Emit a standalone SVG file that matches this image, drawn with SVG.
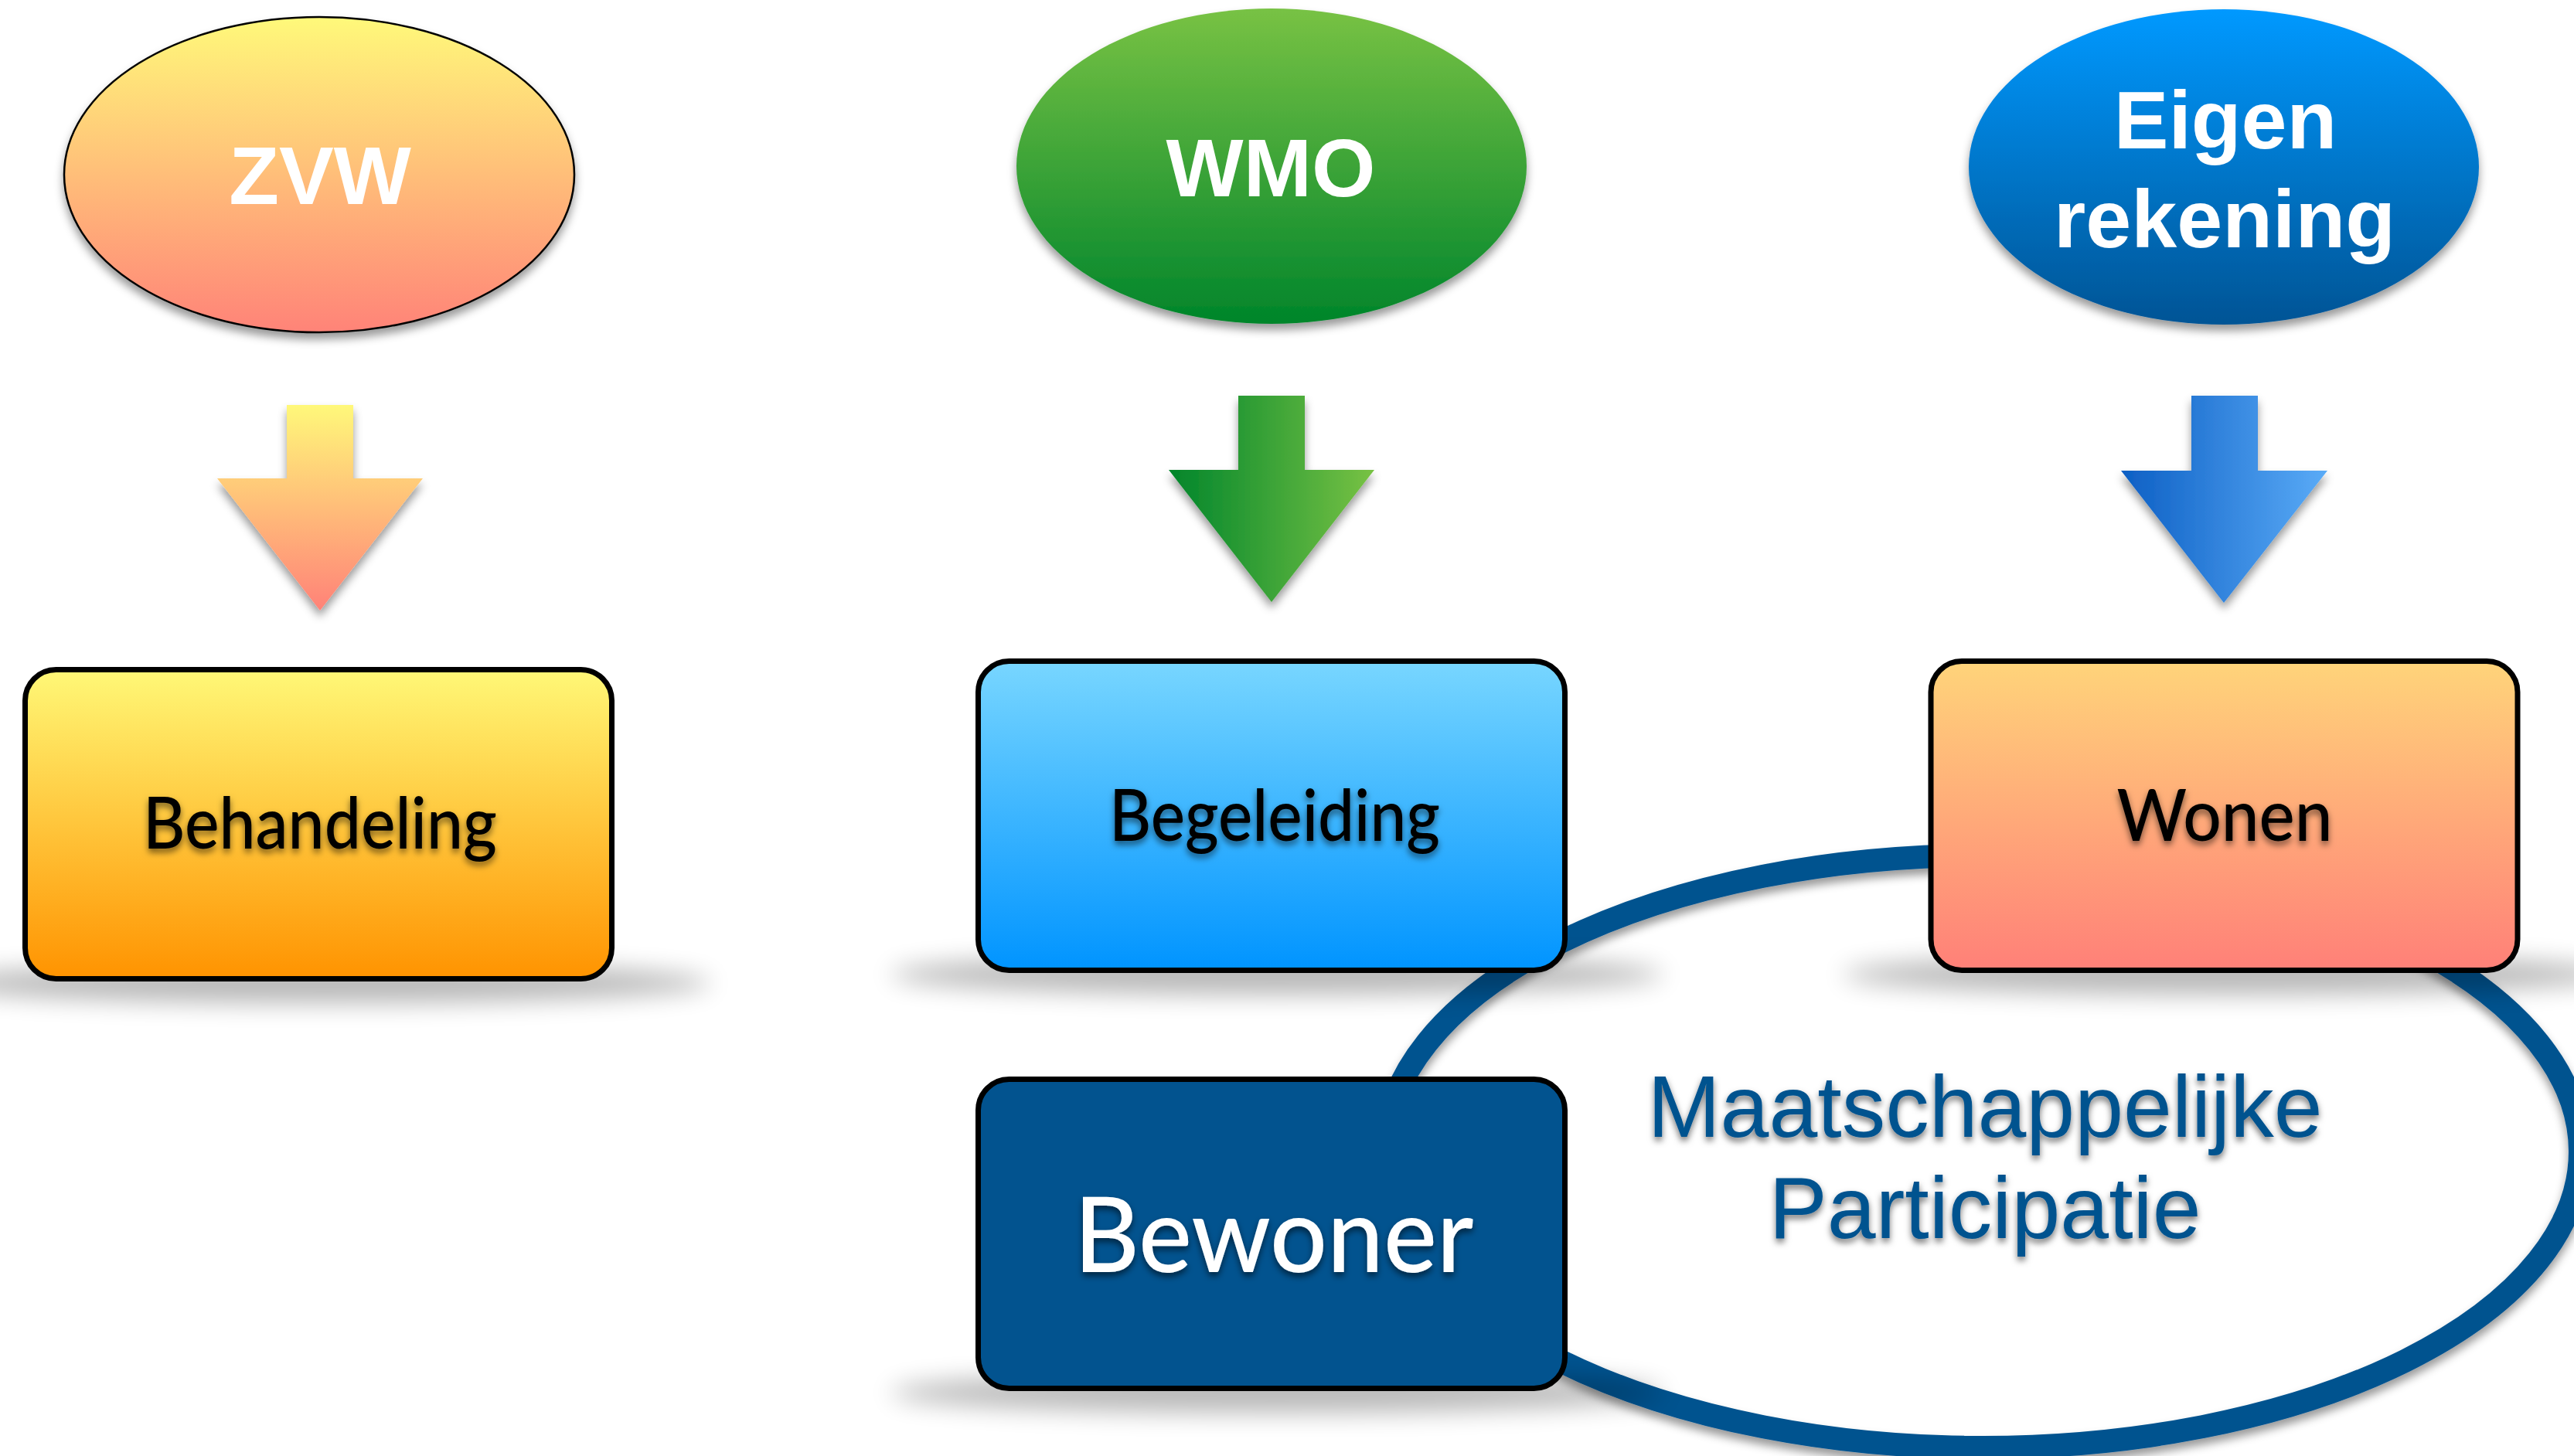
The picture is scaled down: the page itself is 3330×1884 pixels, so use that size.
<svg xmlns="http://www.w3.org/2000/svg" width="3330" height="1884" viewBox="0 0 3330 1884">
<defs>
  <linearGradient id="gZvw" x1="0" y1="0" x2="0" y2="1"><stop offset="0" stop-color="#fff97a"/><stop offset="1" stop-color="#ff8378"/></linearGradient>
  <linearGradient id="gWmo" x1="0" y1="0" x2="0" y2="1"><stop offset="0" stop-color="#78c244"/><stop offset="1" stop-color="#00852b"/></linearGradient>
  <linearGradient id="gEigen" x1="0" y1="0" x2="0" y2="1"><stop offset="0" stop-color="#0099ff"/><stop offset="1" stop-color="#005495"/></linearGradient>
  <linearGradient id="gA1" x1="0" y1="0" x2="0" y2="1"><stop offset="0" stop-color="#fff87a"/><stop offset="1" stop-color="#ff8278"/></linearGradient>
  <linearGradient id="gA2" x1="0" y1="0" x2="1" y2="0"><stop offset="0" stop-color="#00852b"/><stop offset="1" stop-color="#78c244"/></linearGradient>
  <linearGradient id="gA3" x1="0" y1="0" x2="1" y2="0"><stop offset="0" stop-color="#0d5fc4"/><stop offset="1" stop-color="#5aabf7"/></linearGradient>
  <linearGradient id="gBeh" x1="0" y1="0" x2="0" y2="1"><stop offset="0" stop-color="#fff877"/><stop offset="1" stop-color="#ff9300"/></linearGradient>
  <linearGradient id="gBeg" x1="0" y1="0" x2="0" y2="1"><stop offset="0" stop-color="#78d6ff"/><stop offset="1" stop-color="#0094ff"/></linearGradient>
  <linearGradient id="gWon" x1="0" y1="0" x2="0" y2="1"><stop offset="0" stop-color="#ffd47a"/><stop offset="1" stop-color="#ff8078"/></linearGradient>
  <filter id="dshadow" x="-20%" y="-20%" width="140%" height="150%"><feDropShadow dx="0" dy="8" stdDeviation="6" flood-color="#000" flood-opacity="0.4"/></filter>
  <filter id="tshadow" x="-10%" y="-20%" width="120%" height="160%"><feDropShadow dx="0" dy="5" stdDeviation="4" flood-color="#000" flood-opacity="0.55"/></filter>
  <filter id="blur" x="-30%" y="-200%" width="160%" height="500%"><feGaussianBlur stdDeviation="16"/></filter>
  <style>
    .head{font-family:"Liberation Sans",Arial,sans-serif;font-weight:bold;font-size:106px;fill:#fff;text-anchor:middle}
    .box{stroke:#000;stroke-width:7}
    .lbl{font-family:Lato,"Open Sans",sans-serif;font-weight:500;fill:#000;text-anchor:middle;filter:url(#tshadow)}
    .cshadow{fill:#000;opacity:0.28;filter:url(#blur)}
    .mp{font-family:"Liberation Sans",Arial,sans-serif;font-size:113px;fill:#02538f;text-anchor:middle;filter:url(#tshadow)}
  </style>
</defs>
<rect width="3330" height="1884" fill="#fff"/>

<g id="ring">
  <ellipse cx="2565" cy="1490" rx="773" ry="383" fill="none" stroke="#02538f" stroke-width="30" filter="url(#dshadow)"/>
  <text class="mp" x="2568" y="1471">Maatschappelijke</text>
  <text class="mp" x="2568" y="1602">Participatie</text>
</g>

<g id="zvw">
  <ellipse cx="413" cy="226" rx="330" ry="204" fill="url(#gZvw)" stroke="#000" stroke-width="2.5" filter="url(#dshadow)"/>
  <text class="head" x="414" y="264">ZVW</text>
</g>
<g id="wmo">
  <ellipse cx="1645" cy="215" rx="330" ry="204" fill="url(#gWmo)" filter="url(#dshadow)"/>
  <text class="head" x="1644" y="254">WMO</text>
</g>
<g id="eigen">
  <ellipse cx="2877" cy="216" rx="330" ry="204" fill="url(#gEigen)" filter="url(#dshadow)"/>
  <text class="head" x="2879" y="192">Eigen</text>
  <text class="head" x="2878" y="320">rekening</text>
</g>

<g id="connectors" filter="url(#dshadow)">
  <polygon points="371,524 457,524 457,619 547,619 414,790 281,619 371,619" fill="url(#gA1)"/>
  <polygon points="1602,512 1688,512 1688,608 1778,608 1645,779 1512,608 1602,608" fill="url(#gA2)"/>
  <polygon points="2835,512 2921,512 2921,609 3011,609 2877,780 2744,609 2835,609" fill="url(#gA3)"/>
</g>

<g id="behandeling">
  <ellipse class="cshadow" cx="420" cy="1272" rx="500" ry="26"/>
  <rect class="box" x="32.5" y="866.5" width="759" height="400" rx="40" fill="url(#gBeh)"/>
  <text class="lbl" x="414" y="1098" font-size="92" textLength="458" lengthAdjust="spacingAndGlyphs">Behandeling</text>
</g>
<g id="begeleiding">
  <ellipse class="cshadow" cx="1652" cy="1261" rx="500" ry="26"/>
  <rect class="box" x="1265.5" y="855.5" width="759" height="400" rx="40" fill="url(#gBeg)"/>
  <text class="lbl" x="1649" y="1088" font-size="92" textLength="428" lengthAdjust="spacingAndGlyphs">Begeleiding</text>
</g>
<g id="wonen">
  <ellipse class="cshadow" cx="2884" cy="1261" rx="500" ry="26"/>
  <rect class="box" x="2498" y="855.5" width="759" height="400" rx="40" fill="url(#gWon)"/>
  <text class="lbl" x="2878" y="1088" font-size="92" textLength="279" lengthAdjust="spacingAndGlyphs">Wonen</text>
</g>
<g id="bewoner">
  <ellipse class="cshadow" cx="1652" cy="1802" rx="500" ry="26"/>
  <rect class="box" x="1265.5" y="1396.5" width="759" height="400" rx="40" fill="#02538f"/>
  <text class="lbl" x="1648" y="1646" font-size="136" style="fill:#fff" textLength="517" lengthAdjust="spacingAndGlyphs">Bewoner</text>
</g>
</svg>
